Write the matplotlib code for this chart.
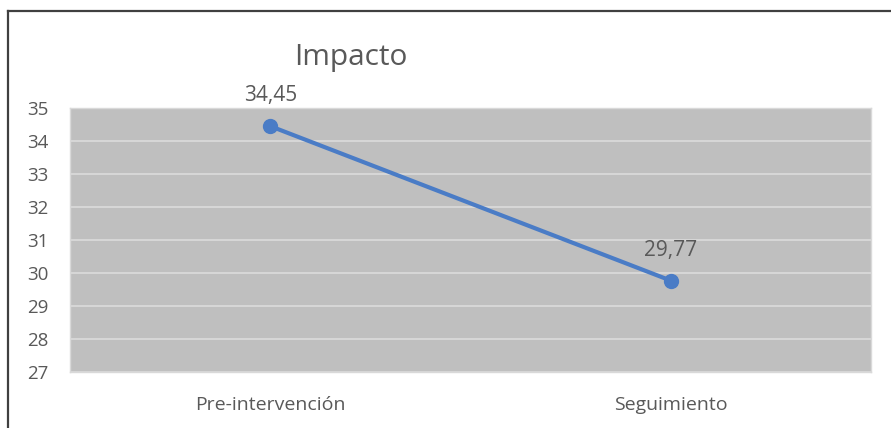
import matplotlib
matplotlib.use("Agg")
import matplotlib.pyplot as plt
from matplotlib.lines import Line2D

categories = ["Pre-intervención", "Seguimiento"]
values = [34.45, 29.77]
value_labels = ["34,45", "29,77"]
y_ticks = [27, 28, 29, 30, 31, 32, 33, 34, 35]
title = "Impacto"

W, H, DPI = 891, 428, 100
plt.rcParams["font.family"] = ["Open Sans", "DejaVu Sans"]
text_color = "#595959"

fig = plt.figure(figsize=(W / DPI, H / DPI), dpi=DPI)
fig.patch.set_facecolor("white")

# plot area in pixel coordinates
left, right, top, bottom = 70, 871, 108, 372
ax = fig.add_axes([left / W, 1 - bottom / H, (right - left) / W, (bottom - top) / H])
ax.set_facecolor("#BFBFBF")
ax.set_xlim(-0.5, len(categories) - 0.5)
ax.set_ylim(y_ticks[0], y_ticks[-1])
ax.set_yticks(y_ticks)
ax.set_yticklabels([str(t) for t in y_ticks], fontsize=13.5, color=text_color)
ax.set_xticks(range(len(categories)))
ax.set_xticklabels(categories, fontsize=14, color=text_color)
ax.tick_params(axis="both", length=0)
ax.tick_params(axis="y", pad=15.5)
ax.tick_params(axis="x", pad=17)
for s in ax.spines.values():
    s.set_color("#D9D9D9")
    s.set_linewidth(1.0)
ax.grid(axis="y", color="#D9D9D9", linewidth=1.3)
ax.set_axisbelow(True)

xs = list(range(len(categories)))
ax.plot(xs, values, color="#4A7CC6", linewidth=3.0, marker="o",
        markersize=10, solid_capstyle="round", zorder=3, clip_on=False)
for x, v, lab in zip(xs, values, value_labels):
    ax.annotate(lab, (x, v), xytext=(0, 22), textcoords="offset points",
                ha="center", va="center", fontsize=15, color=text_color)

fig.text(351 / W, 1 - 58 / H, title, ha="center", va="center",
         fontsize=21.5, color=text_color)

# outer frame (top and left edges)
frame_color = "#404040"
fig.add_artist(Line2D([8 / W, 1.0], [1 - 11 / H, 1 - 11 / H],
                      transform=fig.transFigure, color=frame_color, linewidth=1.6))
fig.add_artist(Line2D([8 / W, 8 / W], [1 - 11 / H, 0.0],
                      transform=fig.transFigure, color=frame_color, linewidth=1.6))

fig.savefig("out.png", dpi=DPI)
